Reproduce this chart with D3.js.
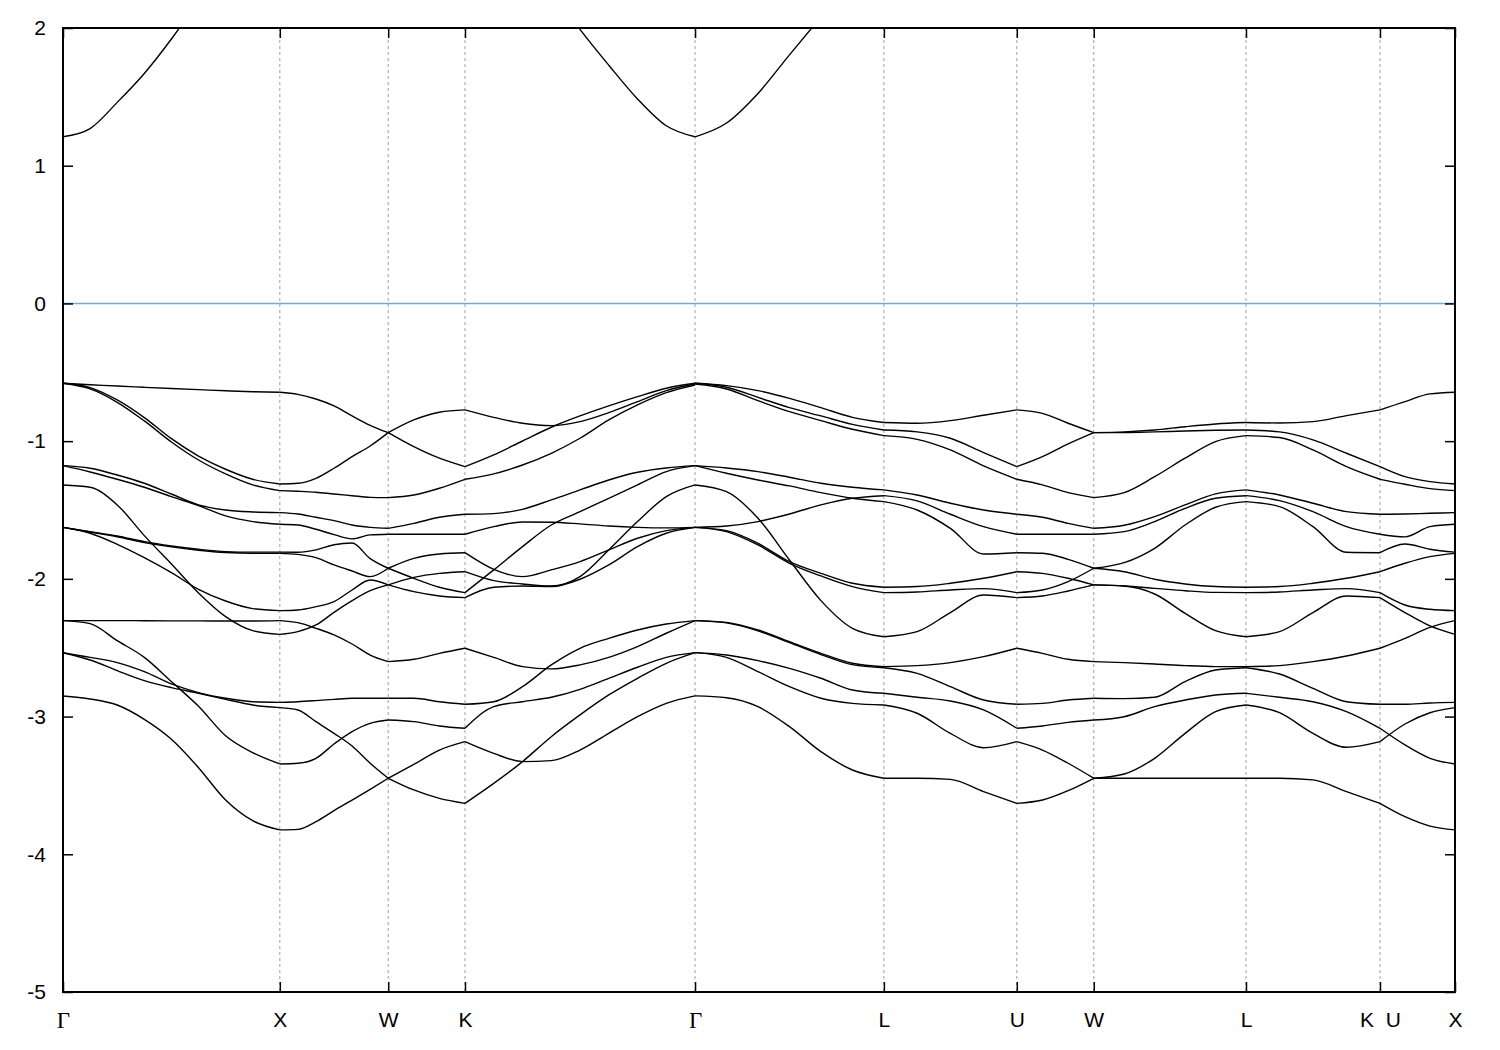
<!DOCTYPE html>
<html>
<head>
<meta charset="utf-8">
<script src="https://cdn.jsdelivr.net/npm/d3@7"></script>
<style>
  html, body { margin: 0; padding: 0; background: #fff; }
  svg { display: block; }
</style>
</head>
<body>
<svg id="chart" width="1500" height="1050"></svg>
<script>
// ---- data ----
const kTicks  = [0, 1.0, 1.5, 1.854, 2.915, 3.786, 4.399, 4.754, 5.456, 6.074, 6.420];
const kLabels = ["Γ", "X", "W", "K", "Γ", "L", "U", "W", "L", "K\u00a0\u00a0U", "X"];
const yTicks  = [-5, -4, -3, -2, -1, 0, 1, 2];
const fermiLevel = 0;

// band energies (eV) at evenly spaced points along each path segment
const bandsGX = [
  [1.21, 1.27, 1.46, 1.67, 1.92, 2.2, null, null, null],
  [-0.580, -0.590, -0.600, -0.609, -0.618, -0.626, -0.634, -0.641, -0.645],
  [-0.580, -0.611, -0.701, -0.829, -0.982, -1.108, -1.204, -1.277, -1.311],
  [-0.580, -0.621, -0.718, -0.853, -1.006, -1.137, -1.238, -1.318, -1.359],
  [-1.178, -1.197, -1.246, -1.306, -1.384, -1.463, -1.500, -1.514, -1.519],
  [-1.178, -1.224, -1.277, -1.335, -1.403, -1.468, -1.543, -1.584, -1.604],
  [-1.318, -1.335, -1.463, -1.686, -1.892, -2.102, -2.274, -2.376, -2.403],
  [-1.626, -1.657, -1.689, -1.730, -1.761, -1.785, -1.802, -1.806, -1.806],
  [-1.626, -1.660, -1.694, -1.736, -1.768, -1.792, -1.809, -1.815, -1.815],
  [-1.626, -1.669, -1.749, -1.846, -1.955, -2.076, -2.161, -2.216, -2.231],
  [-2.303, -2.303, -2.303, -2.304, -2.305, -2.305, -2.306, -2.306, -2.303],
  [-2.303, -2.325, -2.449, -2.570, -2.746, -2.925, -3.139, -3.262, -3.344],
  [-2.536, -2.570, -2.608, -2.674, -2.763, -2.826, -2.867, -2.892, -2.897],
  [-2.536, -2.589, -2.666, -2.739, -2.790, -2.831, -2.875, -2.916, -2.935],
  [-2.851, -2.872, -2.916, -3.020, -3.165, -3.371, -3.606, -3.756, -3.823]
];
const bandsXW = [
  [-0.645, -0.660, -0.694, -0.744, -0.817, -0.885, -0.938],
  [-1.311, -1.306, -1.270, -1.197, -1.112, -1.035, -0.938],
  [-1.359, -1.364, -1.371, -1.384, -1.396, -1.408, -1.410],
  [-1.519, -1.529, -1.553, -1.577, -1.609, -1.626, -1.633],
  [-1.604, -1.609, -1.640, -1.679, -1.710, -1.681, -1.676],
  [-1.806, -1.807, -1.790, -1.752, -1.740, -1.853, -1.923],
  [-1.815, -1.822, -1.846, -1.899, -1.943, -1.984, -1.923],
  [-2.231, -2.226, -2.202, -2.165, -2.081, -2.008, -2.044],
  [-2.403, -2.383, -2.335, -2.243, -2.158, -2.086, -2.044],
  [-2.303, -2.318, -2.359, -2.407, -2.473, -2.553, -2.601],
  [-2.897, -2.892, -2.884, -2.875, -2.867, -2.867, -2.867],
  [-2.935, -2.952, -3.037, -3.122, -3.214, -3.339, -3.448],
  [-3.344, -3.339, -3.303, -3.199, -3.109, -3.049, -3.025],
  [-3.823, -3.819, -3.763, -3.683, -3.606, -3.528, -3.448]
];
const bandsWK = [
  [-0.938, -1.040, -1.124, -1.185],
  [-0.938, -0.846, -0.790, -0.773],
  [-1.410, -1.391, -1.342, -1.277],
  [-1.633, -1.597, -1.553, -1.531],
  [-1.676, -1.676, -1.676, -1.676],
  [-1.923, -1.996, -2.061, -2.100],
  [-1.923, -1.851, -1.819, -1.810],
  [-2.044, -2.093, -2.124, -2.136],
  [-2.044, -1.989, -1.960, -1.948],
  [-2.601, -2.584, -2.541, -2.504],
  [-2.867, -2.867, -2.892, -2.911],
  [-3.025, -3.037, -3.068, -3.085],
  [-3.448, -3.533, -3.594, -3.630],
  [-3.448, -3.347, -3.243, -3.182]
];
const bandsKG = [
  [null, null, null, 2.28, 1.99, 1.73, 1.485, 1.29, 1.21],
  [-0.773, -0.827, -0.870, -0.887, -0.858, -0.793, -0.713, -0.633, -0.585],
  [-1.185, -1.100, -0.999, -0.899, -0.817, -0.744, -0.677, -0.616, -0.580],
  [-1.277, -1.238, -1.173, -1.088, -0.979, -0.846, -0.737, -0.648, -0.592],
  [-1.531, -1.526, -1.495, -1.427, -1.354, -1.282, -1.226, -1.195, -1.178],
  [-2.100, -1.935, -1.766, -1.609, -1.512, -1.415, -1.318, -1.221, -1.178],
  [-1.676, -1.621, -1.587, -1.589, -1.601, -1.616, -1.626, -1.630, -1.626],
  [-1.810, -1.931, -1.984, -1.935, -1.875, -1.790, -1.705, -1.650, -1.626],
  [-1.948, -2.013, -2.037, -2.052, -1.984, -1.790, -1.584, -1.403, -1.318],
  [-2.136, -2.061, -2.052, -2.056, -2.003, -1.899, -1.766, -1.669, -1.626],
  [-2.504, -2.570, -2.637, -2.654, -2.625, -2.570, -2.492, -2.395, -2.303],
  [-2.911, -2.892, -2.783, -2.625, -2.504, -2.432, -2.371, -2.328, -2.303],
  [-3.085, -2.928, -2.892, -2.860, -2.802, -2.722, -2.642, -2.570, -2.536],
  [-3.182, -3.267, -3.327, -3.320, -3.243, -3.122, -3.001, -2.904, -2.850],
  [-3.630, -3.485, -3.327, -3.146, -2.988, -2.843, -2.722, -2.613, -2.536]
];
const bandsGL = [
  [1.21, 1.31, 1.525, 1.805, 2.08, null, null],
  [-0.580, -0.597, -0.633, -0.689, -0.757, -0.827, -0.865],
  [-0.580, -0.609, -0.682, -0.757, -0.817, -0.878, -0.919],
  [-0.585, -0.621, -0.706, -0.786, -0.851, -0.914, -0.960],
  [-1.178, -1.195, -1.221, -1.262, -1.306, -1.335, -1.354],
  [-1.178, -1.233, -1.282, -1.325, -1.374, -1.415, -1.439],
  [-1.626, -1.616, -1.584, -1.529, -1.463, -1.415, -1.396],
  [-1.318, -1.367, -1.560, -1.863, -2.158, -2.359, -2.420],
  [-1.626, -1.650, -1.742, -1.875, -1.960, -2.032, -2.061],
  [-1.626, -1.657, -1.754, -1.887, -1.979, -2.056, -2.100],
  [-2.303, -2.316, -2.371, -2.456, -2.541, -2.613, -2.637],
  [-2.303, -2.320, -2.378, -2.463, -2.550, -2.623, -2.645],
  [-2.536, -2.553, -2.594, -2.650, -2.722, -2.807, -2.831],
  [-2.536, -2.570, -2.674, -2.783, -2.867, -2.904, -2.916],
  [-2.850, -2.863, -2.928, -3.073, -3.255, -3.388, -3.448]
];
const bandsLU = [
  [-0.865, -0.870, -0.851, -0.812, -0.773],
  [-0.919, -0.933, -0.979, -1.083, -1.185],
  [-0.960, -0.987, -1.064, -1.180, -1.277],
  [-1.354, -1.391, -1.451, -1.500, -1.531],
  [-1.396, -1.434, -1.531, -1.621, -1.676],
  [-1.439, -1.500, -1.633, -1.819, -1.810],
  [-2.061, -2.056, -2.032, -1.996, -1.948],
  [-2.100, -2.095, -2.081, -2.071, -2.100],
  [-2.420, -2.383, -2.245, -2.117, -2.136],
  [-2.637, -2.630, -2.608, -2.565, -2.504],
  [-2.645, -2.686, -2.783, -2.880, -2.911],
  [-2.831, -2.860, -2.887, -2.952, -3.085],
  [-2.916, -2.976, -3.122, -3.226, -3.182],
  [-3.448, -3.448, -3.456, -3.545, -3.630]
];
const bandsUW = [
  [-0.773, -0.798, -0.870, -0.938],
  [-1.185, -1.112, -1.020, -0.938],
  [-1.277, -1.318, -1.374, -1.410],
  [-1.531, -1.553, -1.597, -1.633],
  [-1.676, -1.676, -1.676, -1.676],
  [-1.810, -1.814, -1.858, -1.923],
  [-1.948, -1.960, -1.996, -2.044],
  [-2.100, -2.081, -2.020, -1.923],
  [-2.136, -2.124, -2.088, -2.044],
  [-2.504, -2.541, -2.584, -2.601],
  [-2.911, -2.904, -2.880, -2.867],
  [-3.085, -3.068, -3.042, -3.025],
  [-3.182, -3.243, -3.339, -3.448],
  [-3.630, -3.606, -3.538, -3.448]
];
const bandsWL = [
  [-0.938, -0.933, -0.919, -0.895, -0.875, -0.865],
  [-0.938, -0.938, -0.933, -0.926, -0.921, -0.919],
  [-1.410, -1.374, -1.258, -1.124, -1.003, -0.960],
  [-1.633, -1.611, -1.548, -1.463, -1.383, -1.354],
  [-1.676, -1.657, -1.584, -1.488, -1.415, -1.396],
  [-1.923, -1.882, -1.778, -1.609, -1.480, -1.439],
  [-1.923, -1.948, -2.003, -2.037, -2.056, -2.061],
  [-2.044, -2.052, -2.069, -2.086, -2.098, -2.100],
  [-2.044, -2.052, -2.110, -2.250, -2.376, -2.420],
  [-2.601, -2.608, -2.618, -2.630, -2.637, -2.637],
  [-2.867, -2.870, -2.860, -2.746, -2.662, -2.645],
  [-3.025, -3.001, -2.928, -2.880, -2.843, -2.831],
  [-3.448, -3.417, -3.303, -3.122, -2.964, -2.916],
  [-3.448, -3.448, -3.448, -3.448, -3.448, -3.448]
];
const bandsLK = [
  [-0.865, -0.868, -0.858, -0.815, -0.773],
  [-0.919, -0.933, -0.991, -1.088, -1.185],
  [-0.960, -0.974, -1.064, -1.185, -1.277],
  [-1.354, -1.391, -1.451, -1.512, -1.531],
  [-1.396, -1.432, -1.512, -1.621, -1.676],
  [-1.439, -1.475, -1.621, -1.807, -1.810],
  [-2.061, -2.056, -2.032, -1.996, -1.948],
  [-2.100, -2.095, -2.081, -2.071, -2.100],
  [-2.420, -2.383, -2.245, -2.124, -2.136],
  [-2.637, -2.630, -2.601, -2.560, -2.504],
  [-2.645, -2.691, -2.795, -2.892, -2.911],
  [-2.831, -2.860, -2.892, -2.964, -3.085],
  [-2.916, -2.972, -3.122, -3.223, -3.182],
  [-3.448, -3.448, -3.460, -3.545, -3.630]
];
const bandsKX = [
  [-0.773, -0.713, -0.657, -0.645],
  [-1.185, -1.258, -1.294, -1.311],
  [-1.277, -1.313, -1.345, -1.359],
  [-1.531, -1.529, -1.524, -1.519],
  [-1.676, -1.695, -1.621, -1.604],
  [-1.810, -1.747, -1.785, -1.806],
  [-1.948, -1.887, -1.839, -1.815],
  [-2.100, -2.190, -2.221, -2.231],
  [-2.136, -2.245, -2.342, -2.403],
  [-2.504, -2.432, -2.352, -2.303],
  [-2.911, -2.911, -2.901, -2.897],
  [-3.085, -3.206, -3.303, -3.344],
  [-3.182, -3.054, -2.972, -2.935],
  [-3.630, -3.727, -3.795, -3.823]
];
const segmentBands = [bandsGX, bandsXW, bandsWK, bandsKG, bandsGL, bandsLU, bandsUW, bandsWL, bandsLK, bandsKX];

// ---- layout ----
const W = 1500, H = 1050;
const margin = { left: 63, right: 45, top: 28, bottom: 58 };
const iw = W - margin.left - margin.right;
const ih = H - margin.top - margin.bottom;

const svg = d3.select("#chart");
const g = svg.append("g").attr("transform", `translate(${margin.left},${margin.top})`);

const x = d3.scaleLinear().domain([kTicks[0], kTicks[kTicks.length - 1]]).range([0, iw]);
const y = d3.scaleLinear().domain([-5, 2]).range([ih, 0]);

g.append("clipPath").attr("id", "plotclip")
  .append("rect").attr("width", iw).attr("height", ih);

// grid lines at interior symmetry points
g.append("g").selectAll("line")
  .data(kTicks.slice(1, -1))
  .join("line")
  .attr("x1", d => x(d)).attr("x2", d => x(d))
  .attr("y1", 0).attr("y2", ih)
  .attr("stroke", "#a0a0a0").attr("stroke-width", 1)
  .attr("stroke-dasharray", "3,3");

// Fermi level
g.append("line")
  .attr("x1", 0).attr("x2", iw)
  .attr("y1", y(fermiLevel)).attr("y2", y(fermiLevel))
  .attr("stroke", "#56b4e9").attr("stroke-width", 1.6);

// bands
const line = d3.line()
  .defined(d => d[1] !== null)
  .x(d => x(d[0])).y(d => y(d[1]))
  .curve(d3.curveMonotoneX);

const bandG = g.append("g").attr("clip-path", "url(#plotclip)");
segmentBands.forEach((bands, si) => {
  const k0 = kTicks[si], k1 = kTicks[si + 1];
  bands.forEach(vals => {
    const n = vals.length;
    const pts = vals.map((v, i) => [k0 + (k1 - k0) * i / (n - 1), v]);
    bandG.append("path")
      .attr("d", line(pts))
      .attr("fill", "none")
      .attr("stroke", "#000")
      .attr("stroke-width", 1.4)
      .attr("stroke-linejoin", "round");
  });
});

// axes (ticks pointing inward, mirrored)
const fontFam = "'Liberation Sans', Arial, Helvetica, sans-serif";

const yAxisL = g.append("g").call(
  d3.axisLeft(y).tickValues(yTicks).tickSize(-10).tickPadding(17).tickFormat(d => String(d))
);
const yAxisR = g.append("g").attr("transform", `translate(${iw},0)`).call(
  d3.axisRight(y).tickValues(yTicks).tickSize(-10).tickFormat("")
);
const xAxisB = g.append("g").attr("transform", `translate(0,${ih})`).call(
  d3.axisBottom(x).tickValues(kTicks).tickSize(-10).tickPadding(20).tickFormat((d, i) => kLabels[i])
);
const xAxisT = g.append("g").call(
  d3.axisTop(x).tickValues(kTicks).tickSize(-10).tickFormat("")
);

[yAxisL, yAxisR, xAxisB, xAxisT].forEach(a => {
  a.select(".domain").remove();
  a.selectAll(".tick line").attr("stroke", "#000").attr("stroke-width", 1.5);
  a.selectAll(".tick text")
    .attr("fill", "#000")
    .style("font-family", fontFam)
    .style("font-size", "21px");
});
xAxisB.selectAll(".tick text")
  .filter(function () { return d3.select(this).text() === "Γ"; })
  .style("font-family", "'Liberation Serif', 'Times New Roman', serif")
  .style("font-size", "23px");

// frame
g.append("rect")
  .attr("x", 0).attr("y", 0).attr("width", iw).attr("height", ih)
  .attr("fill", "none").attr("stroke", "#000").attr("stroke-width", 2);
</script>
</body>
</html>
